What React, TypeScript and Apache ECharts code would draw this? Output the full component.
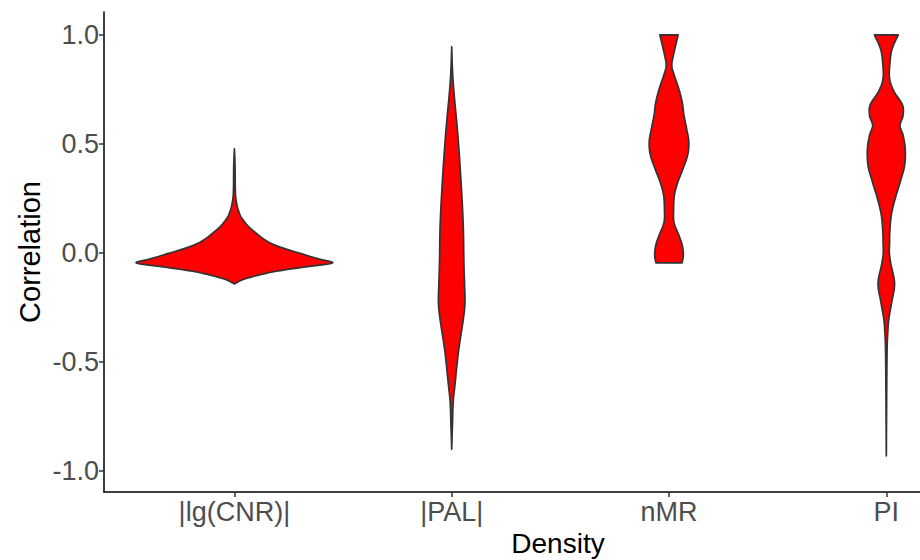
import { useEffect, useRef } from "react";
import * as echarts from "echarts";

const categories = ["|lg(CNR)|", "|PAL|", "nMR", "PI"];
const yTicks = [-1, -0.5, 0, 0.5, 1];

// Violin outlines, top to bottom: [correlation, half width in category units]
const cnrProfile: [number, number][] = [
  [0.477, 0], [0.4, 0.003], [0.3, 0.004], [0.248, 0.007], [0.197, 0.018],
  [0.156, 0.037], [0.105, 0.083], [0.041, 0.175], [-0.009, 0.327],
  [-0.028, 0.391], [-0.046, 0.451], [-0.064, 0.327], [-0.087, 0.175],
  [-0.118, 0.051], [-0.142, 0],
];
const palProfile: [number, number][] = [
  [0.945, 0], [0.85, 0.003], [0.78, 0.007], [0.707, 0.013], [0.633, 0.02],
  [0.555, 0.027], [0.45, 0.035], [0.326, 0.043], [0.2, 0.05], [0.096, 0.054],
  [-0.04, 0.056], [-0.14, 0.059], [-0.225, 0.061], [-0.3, 0.054],
  [-0.454, 0.031], [-0.605, 0.015], [-0.683, 0.007], [-0.8, 0.003], [-0.9, 0],
];
const nmrProfile: [number, number][] = [
  [1.0, 0.042], [0.91, 0.021], [0.86, 0.013], [0.815, 0.024], [0.75, 0.046],
  [0.69, 0.061], [0.63, 0.069], [0.57, 0.081], [0.51, 0.091], [0.45, 0.086],
  [0.385, 0.064], [0.326, 0.041], [0.266, 0.025], [0.2, 0.021], [0.14, 0.023],
  [0.08, 0.046], [0.035, 0.061], [-0.01, 0.066], [-0.045, 0.06],
];
const piProfile: [number, number][] = [
  [1.0, 0.055], [0.937, 0.027], [0.876, 0.017], [0.8, 0.015], [0.74, 0.036],
  [0.68, 0.074], [0.63, 0.077], [0.585, 0.063], [0.54, 0.077], [0.477, 0.087],
  [0.4, 0.084], [0.326, 0.064], [0.25, 0.041], [0.174, 0.023], [0.096, 0.016],
  [0.05, 0.015], [0.0, 0.014], [-0.05, 0.021], [-0.14, 0.038], [-0.225, 0.025],
  [-0.3, 0.012], [-0.36, 0.007], [-0.485, 0.003], [-0.93, 0],
];
const profiles = [cnrProfile, palProfile, nmrProfile, piProfile];

const FONT = "'Liberation Sans', Arial, sans-serif";

// Catmull-Rom pass over an outline so the violin edges are drawn as curves.
function smoothOutline(prof: [number, number][], steps = 8): [number, number][] {
  const out: [number, number][] = [];
  for (let i = 0; i < prof.length - 1; i++) {
    const p0 = prof[Math.max(i - 1, 0)];
    const p1 = prof[i];
    const p2 = prof[i + 1];
    const p3 = prof[Math.min(i + 2, prof.length - 1)];
    for (let s = 0; s < steps; s++) {
      const t = s / steps;
      const t2 = t * t;
      const t3 = t2 * t;
      const f = (a: number, b: number, c: number, d: number) =>
        0.5 * (2 * b + (-a + c) * t + (2 * a - 5 * b + 4 * c - d) * t2 + (-a + 3 * b - 3 * c + d) * t3);
      const y = f(p0[0], p1[0], p2[0], p3[0]);
      let w = f(p0[1], p1[1], p2[1], p3[1]);
      const lo = Math.min(p1[1], p2[1]) * 0.6;
      if (w < lo) w = lo;
      out.push([y, Math.max(w, 0)]);
    }
  }
  out.push(prof[prof.length - 1]);
  return out;
}

export default function App() {
  const ref = useRef<HTMLDivElement>(null);

  useEffect(() => {
    if (!ref.current) return;
    const chart = echarts.init(ref.current, null, { renderer: "svg" });
    chart.setOption({
      animation: false,
      backgroundColor: "#ffffff",
      grid: { left: 104, right: 0, top: 12, bottom: 68 },
      xAxis: {
        type: "value",
        min: 0.4,
        max: 4.155,
        splitLine: { show: false },
        axisLine: { show: true, onZero: false, lineStyle: { color: "#000", width: 1.5 } },
        axisTick: {
          show: true,
          length: 5,
          customValues: [1, 2, 3, 4],
          lineStyle: { color: "#333", width: 1.5 },
        },
        axisLabel: {
          customValues: [1, 2, 3, 4],
          formatter: (v: number) => categories[Math.round(v) - 1] ?? "",
          color: "#4d4d4d",
          fontSize: 27,
          fontFamily: FONT,
          margin: 6,
        },
      },
      yAxis: {
        type: "value",
        min: -1.096,
        max: 1.105,
        splitLine: { show: false },
        axisLine: { show: true, onZero: false, lineStyle: { color: "#000", width: 1.5 } },
        axisTick: {
          show: true,
          length: 5,
          customValues: yTicks,
          lineStyle: { color: "#333", width: 1.5 },
        },
        axisLabel: {
          customValues: yTicks,
          formatter: (v: number) => v.toFixed(1),
          color: "#4d4d4d",
          fontSize: 27,
          fontFamily: FONT,
          margin: 5,
        },
      },
      graphic: [
        {
          type: "text",
          x: 558,
          y: 543,
          style: {
            text: "Density",
            fill: "#000",
            font: `28px ${FONT}`,
            textAlign: "center",
            textVerticalAlign: "middle",
          },
        },
        {
          type: "text",
          x: 30,
          y: 252,
          rotation: Math.PI / 2,
          style: {
            text: "Correlation",
            fill: "#000",
            font: `29px ${FONT}`,
            textAlign: "center",
            textVerticalAlign: "middle",
          },
        },
      ],
      series: [
        {
          type: "custom",
          data: categories.map((_, i) => [i + 1, 0]),
          renderItem: (params: any, api: any) => {
            const center = api.value(0);
            const prof = smoothOutline(profiles[params.dataIndex]);
            const right = prof.map(([y, w]) => api.coord([center + w, y]));
            const left = prof
              .slice()
              .reverse()
              .map(([y, w]) => api.coord([center - w, y]));
            return {
              type: "polygon",
              shape: { points: right.concat(left) },
              style: {
                fill: "#ff0000",
                stroke: "#333333",
                lineWidth: 1.7,
                lineJoin: "round",
              },
            };
          },
        },
      ],
    });
    return () => chart.dispose();
  }, []);

  return (
    <div
      ref={ref}
      style={{ position: "fixed", left: 0, top: 0, width: 920, height: 560 }}
    />
  );
}
